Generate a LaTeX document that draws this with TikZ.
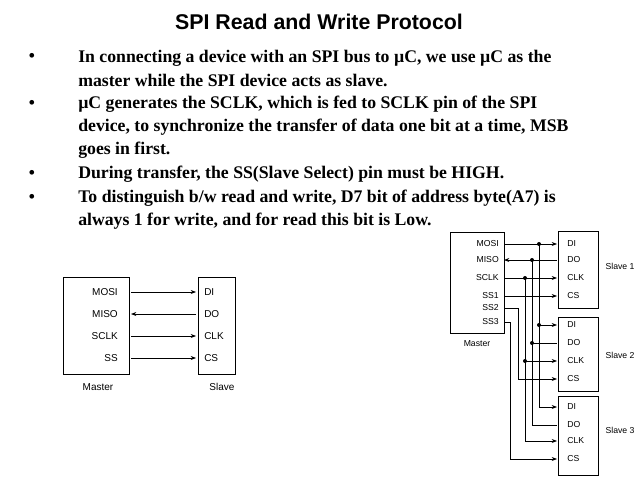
\documentclass[tikz,border=0pt]{standalone}
\usepackage{fontspec}
\setmainfont{Liberation Serif}
\setsansfont{Liberation Sans}
\usetikzlibrary{arrows.meta,calc}
\begin{document}
\begin{tikzpicture}[x=0.75pt,y=-0.75pt,
  box/.style={draw,line width=0.5pt},
  wire/.style={line width=0.5pt},
  arr/.style={wire,-{Stealth[length=4pt,width=3pt]}},
  dot/.style={circle,fill,inner sep=0pt,minimum size=3pt},
  lbl/.style={font=\sffamily\fontsize{7.5}{9}\selectfont,inner sep=0pt},
  sl/.style={font=\sffamily\fontsize{6.5}{7.5}\selectfont,inner sep=0pt},
  bul/.style={font=\bfseries\fontsize{13.3}{17.3}\selectfont,anchor=west,align=left,inner sep=0pt}]
\useasboundingbox (0,0) rectangle (638,478);
\node[font=\sffamily\bfseries\fontsize{16}{18}\selectfont] (title) at (319,22) {SPI Read and Write Protocol};
\foreach \y in {57,104,174,198} \node[font=\bfseries\fontsize{13}{15}\selectfont] at (32,\y) {•};
\node[bul] (b1) at (78,68.5) {In connecting a device with an SPI bus to µC, we use µC as the\\master while the SPI device acts as slave.};
\node[bul] (b2) at (78,127) {µC generates the SCLK, which is fed to SCLK pin of the SPI\\device, to synchronize the transfer of data one bit at a time, MSB\\goes in first.};
\node[bul] (b3) at (78,174) {During transfer, the SS(Slave Select) pin must be HIGH.};
\node[bul] (b4) at (78,209.5) {To distinguish b/w read and write, D7 bit of address byte(A7) is\\always 1 for write, and for read this bit is Low.};
% left diagram
\draw[box] (63,277) rectangle (129,374);
\draw[box] (198,277) rectangle (235,374);
\foreach \t/\y [count=\i] in {MOSI/292,MISO/314,SCLK/336,SS/358}{
  \node[lbl,anchor=east] (lm\i) at (118,\y) {\t};
  \coordinate (lma\i) at (131,\y);
  \coordinate (lsa\i) at (196,\y);}
\foreach \t/\y [count=\i] in {DI/292,DO/314,CLK/336,CS/358}
  \node[lbl,anchor=west] (ls\i) at (204,\y) {\t};
\draw[arr] (lma1) -- (lsa1);
\draw[arr] (lsa2) -- (lma2);
\draw[arr] (lma3) -- (lsa3);
\draw[arr] (lma4) -- (lsa4);
\node[lbl] (lmaster) at (98,387) {Master};
\node[lbl] (lslave) at (222,387) {Slave};
% right diagram
\draw[box] (450,232) rectangle (504,333);
\draw[box] (558,231) rectangle (598,308);
\draw[box] (558,317) rectangle (598,391);
\draw[box] (558,396) rectangle (598,475);
\foreach \t/\y [count=\i] in {MOSI/244,MISO/260,SCLK/278,SS1/296,SS2/308,SS3/322}{
  \node[sl,anchor=east] (rm\i) at (499,\y) {\t};
  \coordinate (rma\i) at (504,\y);}
\node[sl] (rmaster) at (477,344) {Master};
\foreach \y [count=\i] in {244,260,278,296,325,343,361,379,407,425,441,459}
  \coordinate (s\i) at (557,\y);
\foreach \k in {0,1,2}{
  \foreach \t [count=\j] in {DI,DO,CLK,CS}{
    \pgfmathtruncatemacro\n{4*\k+\j}
    \node[sl,anchor=west] at ($(s\n)+(10,0)$) {\t};}}
\node[sl] (sn1) at (620,266) {Slave 1};
\node[sl] (sn2) at (620,355) {Slave 2};
\node[sl] (sn3) at (620,430) {Slave 3};
% MOSI
\draw[arr] (rma1) -- (s1);
\draw[arr] (539,325) -- (s5);
\draw[arr] (539,244) |- (s9);
\node[dot] at (539,244) {}; \node[dot] at (539,325) {};
% MISO
\draw[arr] (s2) -- (rma2);
\draw[wire] (s6) -- (532,343);
\draw[wire] (s10) -| (532,260);
\node[dot] at (532,260) {}; \node[dot] at (532,343) {};
% SCLK
\draw[arr] (rma3) -- (s3);
\draw[arr] (525,361) -- (s7);
\draw[arr] (525,278) |- (s11);
\node[dot] at (525,278) {}; \node[dot] at (525,361) {};
% SS
\draw[arr] (rma4) -- (s4);
\draw[arr] (rma5) -- (518,308) |- (s8);
\draw[arr] (rma6) -- (510,322) |- (s12);
\end{tikzpicture}
\end{document}
